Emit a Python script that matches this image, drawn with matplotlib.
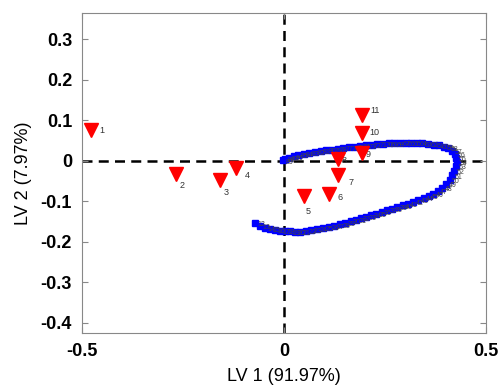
import matplotlib
matplotlib.use("Agg")
import numpy as np
from matplotlib import pyplot as plt

plt.rcParams['font.family'] = ['Liberation Sans', 'DejaVu Sans']

# samples (red triangles)
sample_ids = ['1', '2', '3', '4', '5', '6', '7', '8', '9', '10', '11']
sample_x = [-0.478, -0.267, -0.158, -0.119, 0.050, 0.111, 0.134, 0.134, 0.193, 0.193, 0.193]
sample_y = [0.076, -0.032, -0.047, -0.017, -0.086, -0.081, -0.034, 0.005, 0.020, 0.069, 0.113]

# trajectory (blue squares), lower branch then upper branch
traj_x = [-0.072, -0.060, -0.047, -0.035, -0.022, -0.010, 0.002, 0.015, 0.028, 0.040,
          0.054, 0.068, 0.082, 0.097, 0.111, 0.125, 0.139, 0.152, 0.165, 0.178,
          0.190, 0.203, 0.216, 0.229, 0.242, 0.255, 0.268, 0.281, 0.294, 0.307,
          0.320, 0.333, 0.346, 0.358, 0.370, 0.381, 0.392, 0.402, 0.410, 0.417,
          0.422, 0.426, 0.428,
          0.427, 0.423, 0.416, 0.407, 0.396, 0.384, 0.371, 0.357, 0.343, 0.329,
          0.315, 0.301, 0.287, 0.273, 0.259, 0.245, 0.231, 0.217, 0.203, 0.189,
          0.175, 0.161, 0.147, 0.133, 0.119, 0.105, 0.091, 0.077, 0.063, 0.049,
          0.036, 0.024, 0.013, 0.004, -0.002]
traj_y = [-0.153, -0.160, -0.165, -0.168, -0.170, -0.172, -0.173, -0.174, -0.175, -0.175,
          -0.173, -0.170, -0.168, -0.165, -0.163, -0.160, -0.157, -0.153, -0.149, -0.145,
          -0.141, -0.138, -0.134, -0.130, -0.126, -0.122, -0.118, -0.114, -0.110, -0.106,
          -0.102, -0.097, -0.092, -0.087, -0.081, -0.074, -0.066, -0.057, -0.047, -0.036,
          -0.025, -0.013, -0.002,
          0.008, 0.017, 0.025, 0.031, 0.035, 0.038, 0.040, 0.042, 0.043, 0.044,
          0.044, 0.044, 0.044, 0.043, 0.043, 0.042, 0.041, 0.040, 0.038, 0.037,
          0.035, 0.033, 0.032, 0.030, 0.028, 0.026, 0.024, 0.022, 0.020, 0.017,
          0.014, 0.011, 0.008, 0.004, 0.001]
traj_labels = [str(12 + i) for i in range(len(traj_x))]

fig = plt.figure(figsize=(5.02, 3.91), dpi=100)
ax = fig.add_axes([0.163, 0.148, 0.805, 0.819])

ax.axhline(0, color='black', linestyle='--', linewidth=1.8, dashes=(4, 2.5), zorder=1)
ax.axvline(0, color='black', linestyle='--', linewidth=1.8, dashes=(4, 2.5), zorder=1)

ax.plot(traj_x, traj_y, color='#0000ff', marker='s', markersize=4.5, linewidth=1.2, zorder=2)
for lx, ly, t in zip(traj_x, traj_y, traj_labels):
    ax.text(lx + 0.006, ly - 0.004, t, fontsize=5, color='#444444', va='center', zorder=3)

ax.plot(sample_x, sample_y, linestyle='none', marker='v', markersize=10.5,
        color='#ff0000', zorder=4)

offsets = {'1': (0.022, 0.0), '2': (0.01, -0.03), '3': (0.008, -0.03), '4': (0.022, -0.018),
           '5': (0.005, -0.04), '6': (0.022, -0.01), '7': (0.025, -0.02), '8': (0.01, -0.005),
           '9': (0.01, -0.005), '10': (0.018, 0.0), '11': (0.02, 0.01)}
for sid, sx, sy in zip(sample_ids, sample_x, sample_y):
    dx, dy = offsets[sid]
    ax.text(sx + dx, sy + dy, sid, fontsize=6.5, color='#333333', va='center')

ax.set_xlim(-0.5, 0.5)
ax.set_ylim(-0.425, 0.365)
ax.set_xticks([-0.5, 0, 0.5])
ax.set_xticklabels(['-0.5', '0', '0.5'])
ax.set_yticks([-0.4, -0.3, -0.2, -0.1, 0, 0.1, 0.2, 0.3])
ax.set_yticklabels(['-0.4', '-0.3', '-0.2', '-0.1', '0', '0.1', '0.2', '0.3'])
ax.tick_params(direction='in', length=4, color='#888888', top=True, right=True,
               labelsize=13, pad=7)
for lbl in ax.get_xticklabels() + ax.get_yticklabels():
    lbl.set_fontweight('bold')
for sp in ax.spines.values():
    sp.set_color('#888888')

ax.set_xlabel('LV 1 (91.97%)', fontsize=13, labelpad=6)
ax.set_ylabel('LV 2 (7.97%)', fontsize=13, labelpad=6)

fig.savefig('out.png', dpi=100)
